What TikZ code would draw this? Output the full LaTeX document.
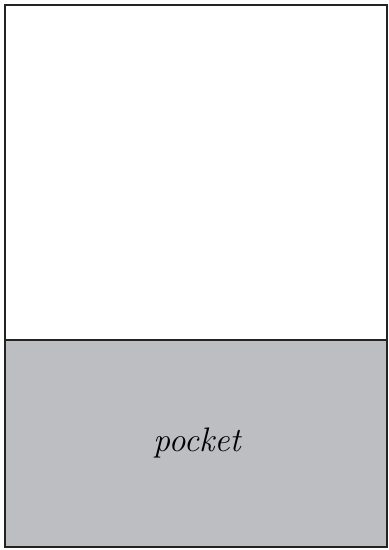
\documentclass[tikz,border=0pt]{standalone}
\usepackage{tikz}
\definecolor{pocketgrey}{RGB}{189,190,194}
\definecolor{edge}{RGB}{35,35,35}

\begin{document}
\begin{tikzpicture}[x=0.5pt, y=-0.5pt, every node/.style={font=\fontsize{17}{20}\selectfont\itshape}]
  \useasboundingbox (0,0) rectangle (389,550);
  \fill[pocketgrey] (5,340) rectangle (387,547);
  \draw[edge, line width=1.2pt] (5,5) rectangle (387,547);
  \draw[edge, line width=1.2pt] (5,340) -- (387,340);
  \node (pocket) at (197,443) {pocket};
\end{tikzpicture}
\end{document}
